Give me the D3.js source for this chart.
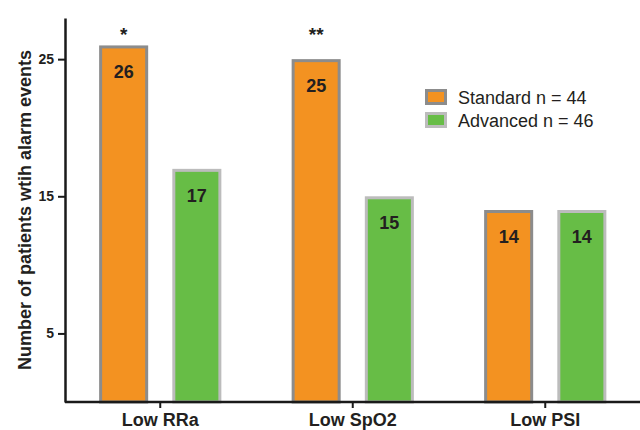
<!DOCTYPE html>
<html>
<head>
<meta charset="utf-8">
<script src="https://cdn.jsdelivr.net/npm/d3@7"></script>
<style>
  body { margin: 0; background: #fff; }
  svg { font-family: "Liberation Sans", Arial, sans-serif; }
</style>
</head>
<body>
<div id="chart"></div>
<script>
// data
var categories = ["Low RRa", "Low SpO2", "Low PSI"];
var seriesNames = ["Standard n = 44", "Advanced n = 46"];
var standardValues = [26, 25, 14];
var advancedValues = [17, 15, 14];
var significance = ["*", "**", ""];
var yTicks = [5, 15, 25];

var fills = ["#f39221", "#67bd46"];
var strokes = ["#8c8c8c", "#bcbcbc"];
var textColour = "#231f20";

var w = 640, h = 430;
var marginLeft = 65, marginTop = 18, axisBottom = 402;

var svg = d3.select("#chart").append("svg")
	.attr("width", w)
	.attr("height", h);

var x0 = d3.scaleBand()
	.domain(categories)
	.range([64, 641.5]);

var x1 = d3.scaleBand()
	.domain([0, 1])
	.range([0, x0.bandwidth()])
	.paddingInner(0.33)
	.paddingOuter(0.48);

var y = d3.scaleLinear()
	.domain([0, 28])
	.range([axisBottom, marginTop]);

var rows = categories.map(function(c, i) {
	return { cat: c, values: [standardValues[i], advancedValues[i]], sig: significance[i] };
});

// bars
var groups = svg.selectAll("g.group")
	.data(rows)
	.enter()
	.append("g")
	.attr("class", "group")
	.attr("transform", function(d) { return "translate(" + x0(d.cat) + ",0)"; });

groups.selectAll("rect")
	.data(function(d) { return d.values; })
	.enter()
	.append("rect")
	.attr("x", function(d, i) { return x1(i) + 1.5; })
	.attr("y", function(d) { return y(d) + 1.5; })
	.attr("width", x1.bandwidth() - 3)
	.attr("height", function(d) { return axisBottom - y(d) - 1.5; })
	.attr("fill", function(d, i) { return fills[i]; })
	.attr("stroke", function(d, i) { return strokes[i]; })
	.attr("stroke-width", 3);

// value labels
groups.selectAll("text.val")
	.data(function(d) { return d.values; })
	.enter()
	.append("text")
	.attr("class", "val")
	.attr("x", function(d, i) { return x1(i) + x1.bandwidth() / 2; })
	.attr("y", function(d) { return y(d) + 33; })
	.attr("text-anchor", "middle")
	.attr("font-size", "18px")
	.attr("font-weight", "bold")
	.attr("fill", textColour)
	.text(function(d) { return d; });

// significance stars
groups.append("text")
	.attr("x", x1(0) + x1.bandwidth() / 2)
	.attr("y", 41)
	.attr("text-anchor", "middle")
	.attr("font-size", "19px")
	.attr("font-weight", "bold")
	.attr("fill", textColour)
	.text(function(d) { return d.sig; });

// axes
var yAxis = d3.axisLeft(y)
	.tickValues(yTicks)
	.tickSize(7)
	.tickSizeOuter(0)
	.tickPadding(4);

var gy = svg.append("g")
	.attr("transform", "translate(" + marginLeft + ",0)")
	.call(yAxis);
gy.select(".domain").attr("stroke", "#1a1a1a").attr("stroke-width", 2.5);
gy.selectAll(".tick line").attr("stroke", "#1a1a1a").attr("stroke-width", 2);
gy.selectAll(".tick text")
	.attr("font-size", "14px")
	.attr("font-weight", "bold")
	.attr("font-family", "Liberation Sans, Arial, sans-serif")
	.attr("fill", textColour);

var xAxis = d3.axisBottom(x0)
	.tickSize(6)
	.tickSizeOuter(0)
	.tickPadding(5);

var gx = svg.append("g")
	.attr("transform", "translate(0," + axisBottom + ")")
	.call(xAxis);
gx.select(".domain").attr("d", "M" + marginLeft + ",0H" + w).attr("stroke", "#1a1a1a").attr("stroke-width", 2.5);
gx.selectAll(".tick line").attr("stroke", "#1a1a1a").attr("stroke-width", 2);
gx.selectAll(".tick text")
	.attr("font-size", "18px")
	.attr("font-weight", "bold")
	.attr("font-family", "Liberation Sans, Arial, sans-serif")
	.attr("fill", textColour);

// y label
svg.append("text")
	.attr("transform", "translate(31," + ((marginTop + axisBottom) / 2) + ") rotate(-90)")
	.attr("text-anchor", "middle")
	.attr("font-size", "18px")
	.attr("font-weight", "bold")
	.attr("fill", textColour)
	.text("Number of patients wtih alarm events");

// legend
var legend = svg.selectAll("g.legend")
	.data(seriesNames)
	.enter()
	.append("g")
	.attr("class", "legend")
	.attr("transform", function(d, i) { return "translate(425," + (89 + i * 23) + ")"; });

legend.append("rect")
	.attr("x", 1.5)
	.attr("y", 1.5)
	.attr("width", 19)
	.attr("height", 13)
	.attr("fill", function(d, i) { return fills[i]; })
	.attr("stroke", function(d, i) { return strokes[i]; })
	.attr("stroke-width", 3);

legend.append("text")
	.attr("x", 33)
	.attr("y", 15)
	.attr("font-size", "18px")
	.attr("fill", textColour)
	.text(function(d) { return d; });
</script>
</body>
</html>
